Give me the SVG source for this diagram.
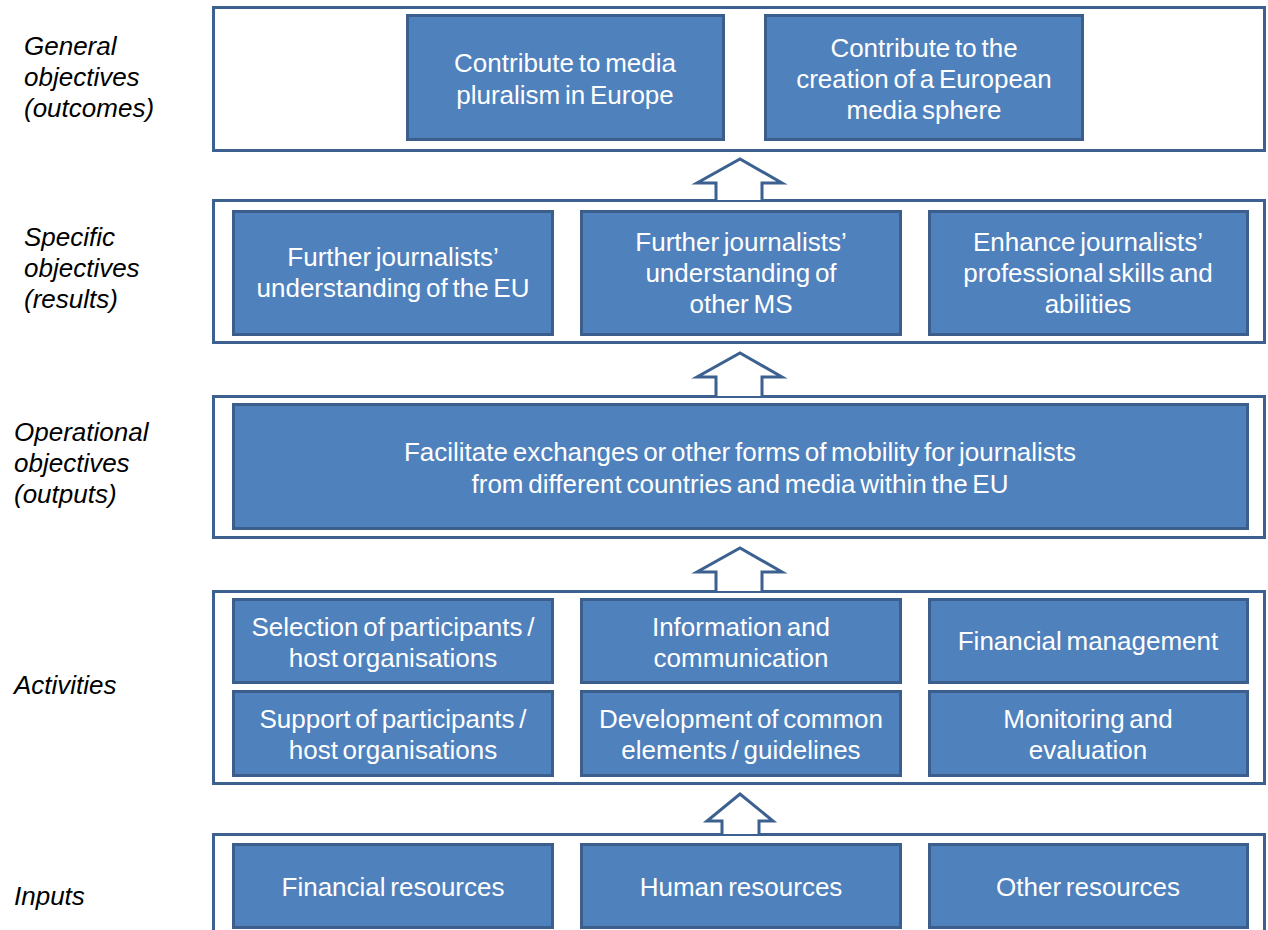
<svg xmlns="http://www.w3.org/2000/svg" width="1268" height="930" viewBox="0 0 1268 930">
<style>
.frame{fill:#FFFFFF;stroke:#3C6190;stroke-width:3}
.box{fill:#4F81BD;stroke:#3B5E8C;stroke-width:3}
.bt{font-family:"Liberation Sans",Arial,sans-serif;font-size:26px;fill:#FFFFFF;text-anchor:middle;word-spacing:-2.5px}
.lbl{font-family:"Liberation Sans",Arial,sans-serif;font-size:26px;font-style:italic;fill:#000000}
.arrow{fill:#FFFFFF;stroke:#3C6190;stroke-width:3;stroke-linejoin:miter}
</style>
<rect width="1268" height="930" fill="#FFFFFF"/>
<g id="frames">
<rect class="frame" x="213.5" y="7.5" width="1051" height="143"/>
<rect class="frame" x="213.5" y="200.5" width="1051" height="142"/>
<rect class="frame" x="213.5" y="396.5" width="1051" height="141"/>
<rect class="frame" x="213.5" y="591.5" width="1051" height="192"/>
<rect class="frame" x="213.5" y="834.5" width="1051" height="110"/>
</g>
<g id="labels">
<text class="lbl" x="24" y="55">General</text>
<text class="lbl" x="24" y="86">objectives</text>
<text class="lbl" x="24" y="117">(outcomes)</text>
<text class="lbl" x="24" y="246">Specific</text>
<text class="lbl" x="24" y="277">objectives</text>
<text class="lbl" x="24" y="308">(results)</text>
<text class="lbl" x="14" y="441">Operational</text>
<text class="lbl" x="14" y="472">objectives</text>
<text class="lbl" x="14" y="503">(outputs)</text>
<text class="lbl" x="14" y="694">Activities</text>
<text class="lbl" x="14" y="905">Inputs</text>
</g>
<g id="connectors">
<path class="arrow" d="M716 200 V183 H697 L740 159 L782 183 H762 V200"/>
<path class="arrow" d="M716 396 V377 H697 L740 353 L782 377 H762 V396"/>
<path class="arrow" d="M716 591 V572 H697 L740 548 L782 572 H762 V591"/>
<path class="arrow" d="M722 834 V821 H707 L740 794 L773 821 H759 V834"/>
</g>
<g id="general-1">
<rect class="box" x="407.5" y="15.5" width="316" height="124"/>
<text class="bt" x="565" y="72">Contribute to media</text>
<text class="bt" x="565" y="104">pluralism in Europe</text>
</g>
<g id="general-2">
<rect class="box" x="765.5" y="15.5" width="317" height="124"/>
<text class="bt" x="924" y="57">Contribute to the</text>
<text class="bt" x="924" y="88">creation of a European</text>
<text class="bt" x="924" y="119">media sphere</text>
</g>
<g id="specific-1">
<rect class="box" x="233.5" y="211.5" width="319" height="123"/>
<text class="bt" x="393" y="266">Further journalists’</text>
<text class="bt" x="393" y="297">understanding of the EU</text>
</g>
<g id="specific-2">
<rect class="box" x="581.5" y="211.5" width="319" height="123"/>
<text class="bt" x="741" y="251">Further journalists’</text>
<text class="bt" x="741" y="282">understanding of</text>
<text class="bt" x="741" y="313">other MS</text>
</g>
<g id="specific-3">
<rect class="box" x="929.5" y="211.5" width="318" height="123"/>
<text class="bt" x="1088" y="251">Enhance journalists’</text>
<text class="bt" x="1088" y="282">professional skills and</text>
<text class="bt" x="1088" y="313">abilities</text>
</g>
<g id="operational">
<rect class="box" x="233.5" y="404.5" width="1014" height="124"/>
<text class="bt" x="740" y="461">Facilitate exchanges or other forms of mobility for journalists</text>
<text class="bt" x="740" y="493">from different countries and media within the EU</text>
</g>
<g id="activity-1">
<rect class="box" x="233.5" y="599.5" width="319" height="83"/>
<text class="bt" x="393" y="636">Selection of participants /</text>
<text class="bt" x="393" y="667">host organisations</text>
</g>
<g id="activity-2">
<rect class="box" x="581.5" y="599.5" width="319" height="83"/>
<text class="bt" x="741" y="636">Information and</text>
<text class="bt" x="741" y="667">communication</text>
</g>
<g id="activity-3">
<rect class="box" x="929.5" y="599.5" width="318" height="83"/>
<text class="bt" x="1088" y="650">Financial management</text>
</g>
<g id="activity-4">
<rect class="box" x="233.5" y="691.5" width="319" height="84"/>
<text class="bt" x="393" y="728">Support of participants /</text>
<text class="bt" x="393" y="759">host organisations</text>
</g>
<g id="activity-5">
<rect class="box" x="581.5" y="691.5" width="319" height="84"/>
<text class="bt" x="741" y="728">Development of common</text>
<text class="bt" x="741" y="759">elements / guidelines</text>
</g>
<g id="activity-6">
<rect class="box" x="929.5" y="691.5" width="318" height="84"/>
<text class="bt" x="1088" y="728">Monitoring and</text>
<text class="bt" x="1088" y="759">evaluation</text>
</g>
<g id="input-1">
<rect class="box" x="233.5" y="844.5" width="319" height="83"/>
<text class="bt" x="393" y="896">Financial resources</text>
</g>
<g id="input-2">
<rect class="box" x="581.5" y="844.5" width="319" height="83"/>
<text class="bt" x="741" y="896">Human resources</text>
</g>
<g id="input-3">
<rect class="box" x="929.5" y="844.5" width="318" height="83"/>
<text class="bt" x="1088" y="896">Other resources</text>
</g>
</svg>
